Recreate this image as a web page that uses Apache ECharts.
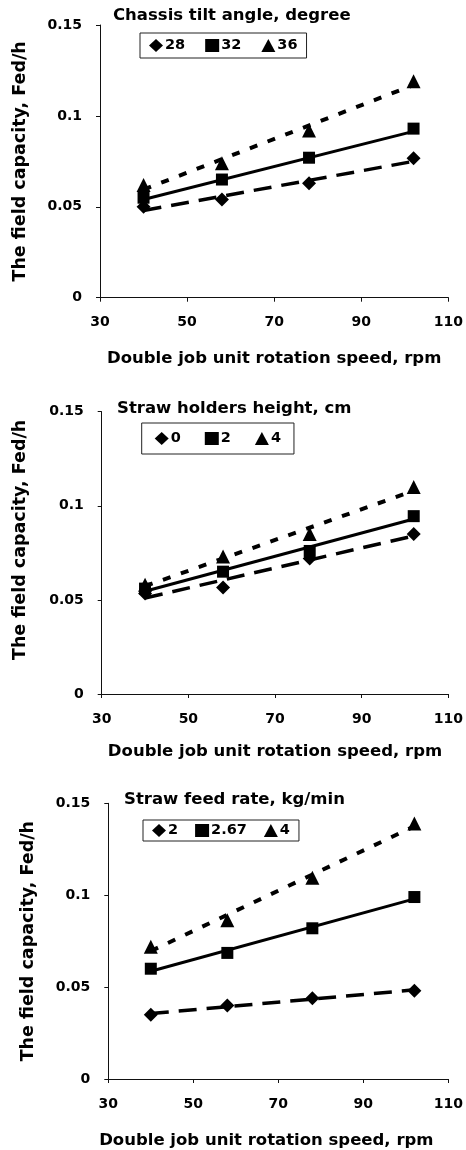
<!DOCTYPE html>
<html><head><meta charset="utf-8">
<script src="https://cdn.jsdelivr.net/npm/echarts@6/dist/echarts.min.js"></script>
<style>html,body{margin:0;padding:0;background:#fff}#c{width:466px;height:1150px}</style>
</head><body><div id="c"></div>
<script>
// ---- data ----
const speedRpm = [40, 58, 78, 102];
const trendRpm = [40, 102];
const xTickValues = [30, 50, 70, 90, 110];
const yTickValues = [0, 0.05, 0.1, 0.15];
const xAxisTitle = 'Double job unit rotation speed, rpm';
const yAxisTitle = 'The field capacity, Fed/h';

// Panel 1: chassis tilt angle
const panel1Title = 'Chassis tilt angle, degree';
const panel1Names = ['28', '32', '36'];
const panel1Deg28 = [0.050, 0.054, 0.063, 0.0767];
const panel1Deg32 = [0.055, 0.065, 0.077, 0.093];
const panel1Deg36 = [0.062, 0.074, 0.092, 0.119];
const panel1Trend28 = [0.048, 0.075];
const panel1Trend32 = [0.054, 0.0915];
const panel1Trend36 = [0.0595, 0.117];

// Panel 2: straw holders height
const panel2Title = 'Straw holders height, cm';
const panel2Names = ['0', '2', '4'];
const panel2H0 = [0.0534, 0.0566, 0.072, 0.085];
const panel2H2 = [0.056, 0.065, 0.076, 0.0945];
const panel2H4 = [0.058, 0.073, 0.085, 0.110];
const panel2Trend0 = [0.051, 0.084];
const panel2Trend2 = [0.0546, 0.093];
const panel2Trend4 = [0.0573, 0.108];

// Panel 3: straw feed rate
const panel3Title = 'Straw feed rate, kg/min';
const panel3Names = ['2', '2.67', '4'];
const panel3F2 = [0.035, 0.040, 0.044, 0.048];
const panel3F267 = [0.060, 0.0686, 0.082, 0.099];
const panel3F4 = [0.072, 0.0864, 0.1095, 0.139];
const panel3Trend2 = [0.0356, 0.0485];
const panel3Trend267 = [0.0586, 0.098];
const panel3Trend4 = [0.0696, 0.1375];

// ---- layout / style ----
const FONT = 'DejaVu Sans';
const panels = [
  {title: panel1Title, names: panel1Names, values: [panel1Deg28, panel1Deg32, panel1Deg36], trends: [panel1Trend28, panel1Trend32, panel1Trend36]},
  {title: panel2Title, names: panel2Names, values: [panel2H0, panel2H2, panel2H4], trends: [panel2Trend0, panel2Trend2, panel2Trend4]},
  {title: panel3Title, names: panel3Names, values: [panel3F2, panel3F267, panel3F4], trends: [panel3Trend2, panel3Trend267, panel3Trend4]}
];
const layouts = [
  {grid: {left: 100, top: 25, width: 352, height: 272.7}, titleLeft: 113, titleTop: 7,
   legend: {left: 140, top: 33, padding: [5, 9], itemGap: 20}, xNameGap: 53, xNamePad: [0, 0, 0, 0], yNameGap: 71, yNamePad: [0, 0, 0, 0]},
  {grid: {left: 101.7, top: 411.7, width: 351.3, height: 282.3}, titleLeft: 117, titleTop: 400,
   legend: {left: 141.7, top: 423, padding: [8, 13], itemGap: 24}, xNameGap: 49, xNamePad: [0, 0, 0, 0], yNameGap: 72, yNamePad: [0, 0, 0, 26]},
  {grid: {left: 108.3, top: 803.3, width: 345.7, height: 277.7}, titleLeft: 124, titleTop: 791,
   legend: {left: 143, top: 820, padding: [3, 9], itemGap: 17}, xNameGap: 53, xNamePad: [0, 24, 0, 0], yNameGap: 71, yNamePad: [0, 0, 0, 0]}
];
const symbols = ['diamond', 'rect', 'triangle'];
const symbolSizes = [14, 12, 14];
const lineTypes = [[18, 10], 'solid', [8, 11]];
const lineWidths = [3.5, 3, 4];

const chart = echarts.init(document.getElementById('c'), null, {renderer: 'canvas'});
const option = {
  backgroundColor: '#fff',
  animation: false,
  grid: [], xAxis: [], yAxis: [], title: [], legend: [], series: []
};
panels.forEach((p, i) => {
  const L = layouts[i];
  option.grid.push(Object.assign({containLabel: false}, L.grid));
  option.xAxis.push({
    type: 'value', gridIndex: i,
    min: xTickValues[0], max: xTickValues[xTickValues.length - 1],
    interval: xTickValues[1] - xTickValues[0],
    name: xAxisTitle, nameLocation: 'middle', nameGap: L.xNameGap,
    nameTextStyle: {fontFamily: FONT, fontWeight: 'bold', fontSize: 16.5, color: '#000', padding: L.xNamePad},
    axisLine: {show: true, onZero: false, lineStyle: {color: '#111', width: 1}},
    axisTick: {show: true, inside: false, length: 4, lineStyle: {color: '#111'}},
    axisLabel: {margin: 18, fontFamily: FONT, fontWeight: 'bold', fontSize: 14, color: '#000'},
    splitLine: {show: false}
  });
  option.yAxis.push({
    type: 'value', gridIndex: i,
    min: yTickValues[0], max: yTickValues[yTickValues.length - 1],
    interval: yTickValues[1] - yTickValues[0],
    name: yAxisTitle, nameLocation: 'middle', nameGap: L.yNameGap, nameRotate: 90,
    nameTextStyle: {fontFamily: FONT, fontWeight: 'bold', fontSize: 17.5, color: '#000', padding: L.yNamePad},
    axisLine: {show: true, onZero: false, lineStyle: {color: '#111', width: 1}},
    axisTick: {show: true, inside: false, length: 4, lineStyle: {color: '#111'}},
    axisLabel: {margin: 18, fontFamily: FONT, fontWeight: 'bold', fontSize: 14, color: '#000'},
    splitLine: {show: false}
  });
  option.title.push({
    text: p.title, left: L.titleLeft, top: L.titleTop, padding: 0,
    textStyle: {fontFamily: FONT, fontWeight: 'bold', fontSize: 16.5, color: '#000'}
  });
  option.legend.push({
    left: L.legend.left, top: L.legend.top, padding: L.legend.padding, itemGap: L.legend.itemGap,
    orient: 'horizontal', borderColor: '#222', borderWidth: 1, backgroundColor: '#fff',
    itemWidth: 14, itemHeight: 13, selectedMode: false,
    textStyle: {fontFamily: FONT, fontWeight: 'bold', fontSize: 14.5, color: '#000', padding: [0, 0, 0, -3]},
    itemStyle: {color: '#000'},
    data: p.names.map((n, k) => ({name: n, icon: symbols[k]}))
  });
  p.names.forEach((n, k) => {
    option.series.push({
      type: 'line', name: n + ' trend', xAxisIndex: i, yAxisIndex: i,
      data: trendRpm.map((x, j) => [x, p.trends[k][j]]),
      showSymbol: false, symbol: 'none', silent: true,
      lineStyle: {color: '#000', width: lineWidths[k], type: lineTypes[k]}, z: 2
    });
    option.series.push({
      type: 'scatter', name: n, xAxisIndex: i, yAxisIndex: i,
      data: speedRpm.map((x, j) => [x, p.values[k][j]]),
      symbol: symbols[k], symbolSize: symbolSizes[k],
      itemStyle: {color: '#000', opacity: 1}, z: 3
    });
  });
});
chart.setOption(option);
</script></body></html>
